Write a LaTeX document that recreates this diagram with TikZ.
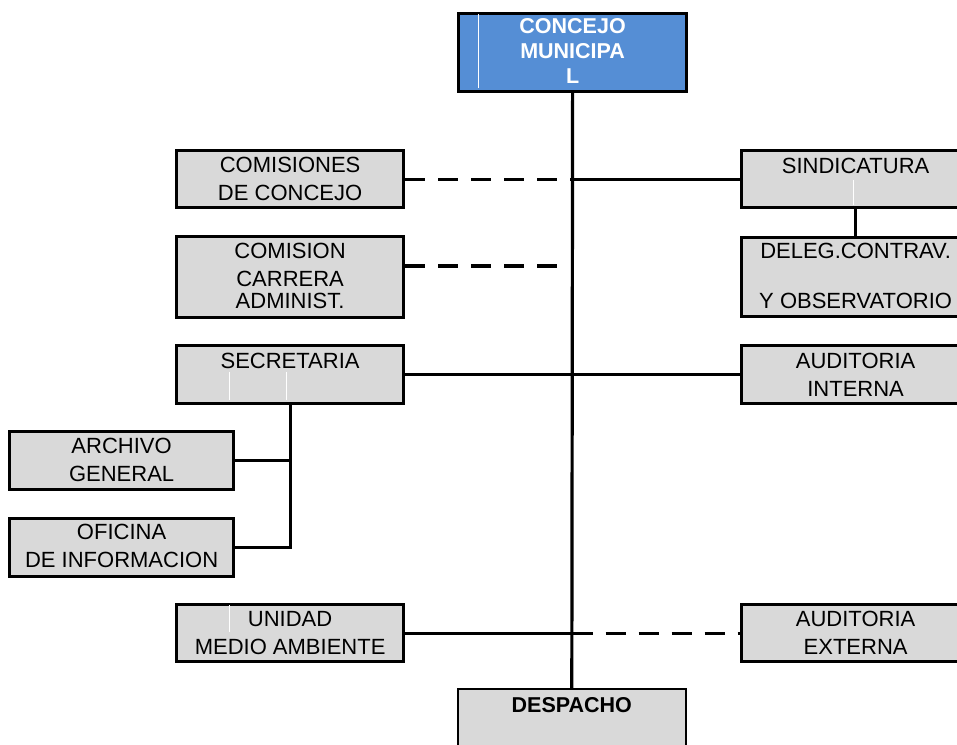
\documentclass[tikz,border=0pt]{standalone}
\usepackage{fontspec}
\setmainfont{Liberation Sans}
\usetikzlibrary{calc}
\definecolor{boxgray}{RGB}{217,217,217}
\definecolor{headblue}{RGB}{85,142,213}

\begin{document}
\begin{tikzpicture}[x=1pt,y=-1pt,
  unit/.style={draw=black, line width=3.2pt, fill=boxgray, rectangle,
               inner sep=0pt, anchor=north west},
  head/.style={unit, fill=headblue},
  wide/.style={minimum width=227pt},
  caption/.style={anchor=north, align=center, inner sep=0pt,
                  font=\fontsize{22}{28}\selectfont},
  link/.style={line width=3.2pt},
  dlink/.style={link, dash pattern=on 20pt off 13pt},
  seam/.style={white, line width=0.8pt}]

\useasboundingbox (0,0) rectangle (957,744);

% ---- boxes ----
\node[head, minimum width=228pt, minimum height=78pt] (concejo) at (457,12) {};
\node[unit, wide, minimum height=57pt] (com)   at (175,149) {};
\node[unit, wide, minimum height=81pt] (car)   at (175,235) {};
\node[unit, wide, minimum height=58pt] (sec)   at (175,344) {};
\node[unit, minimum width=224pt, minimum height=58pt] (arch) at (8,430) {};
\node[unit, minimum width=224pt, minimum height=58pt] (ofi)  at (8,517) {};
\node[unit, wide, minimum height=57pt] (uni)   at (175,603) {};
\node[unit, minimum width=228pt, minimum height=57pt] (sind)  at (740,149) {};
\node[unit, minimum width=228pt, minimum height=79pt] (deleg) at (740,236) {};
\node[unit, minimum width=228pt, minimum height=58pt] (aint)  at (740,344) {};
\node[unit, minimum width=228pt, minimum height=57pt] (aext)  at (740,603) {};
\node[unit, line width=1.6pt, minimum width=228pt, minimum height=110pt] (desp) at (457,688) {};

% ---- faint cell seams inside some boxes ----
\draw[seam] (478,14) -- (478,88);
\draw[seam] (853,180) -- (853,205);
\draw[seam] (229,372) -- (229,400);
\draw[seam] (286,372) -- (286,400);
\draw[seam] (229,605) -- (229,632);

% ---- captions ----
\node[caption, text=white, font=\bfseries\fontsize{21.5}{25}\selectfont]
  (concejoT) at ([yshift=-6pt]concejo.north) {CONCEJO\\MUNICIPA\\L};
\node[caption] (comT)   at ([yshift=-8pt]com.north)   {COMISIONES\\DE CONCEJO};
\node[caption] (carT)   at ([yshift=-8pt]car.north)   {COMISION\\CARRERA\\[-6pt]ADMINIST.};
\node[caption] (secT)   at ([yshift=-9pt]sec.north)   {SECRETARIA};
\node[caption] (archT)  at ([yshift=-8pt]arch.north)  {ARCHIVO\\GENERAL};
\node[caption] (ofiT)   at ([yshift=-7pt]ofi.north)   {OFICINA\\DE INFORMACION};
\node[caption] (uniT)   at ([yshift=-8pt]uni.north)   {UNIDAD\\MEDIO AMBIENTE};
\node[caption] (sindT)  at ([yshift=-9pt]sind.north)  {SINDICATURA};
\node[caption] (delegT) at ([yshift=-7pt]deleg.north) {DELEG.CONTRAV.\\[22pt]Y OBSERVATORIO};
\node[caption] (aintT)  at ([yshift=-9pt]aint.north)  {AUDITORIA\\INTERNA};
\node[caption] (aextT)  at ([yshift=-8pt]aext.north)  {AUDITORIA\\EXTERNA};
\node[caption, font=\bfseries\fontsize{21.5}{28}\selectfont]
  (despT) at ([yshift=-9pt]desp.north) {DESPACHO};

% ---- connectors ----
\coordinate (carEnd) at (566,266);

\draw[link] (concejo.south) -- (desp.north);
\draw[dlink] (com.east) -- (com.east -| concejo.south);
\draw[link] (com.east -| concejo.south) -- (sind.west);
\draw[dlink] (carEnd -| car.east) -- (carEnd);
\draw[link] (sind.south) -- (deleg.north);
\draw[link] (sec.east) -- (aint.west);
\draw[link] (sec.south) -- (sec.south |- ofi.east) -- (ofi.east);
\draw[link] (arch.east) -- (arch.east -| sec.south);
\draw[link] (uni.east) -- (uni.east -| concejo.south);
\draw[dlink] (uni.east -| concejo.south) -- (aext.west);
\end{tikzpicture}
\end{document}
